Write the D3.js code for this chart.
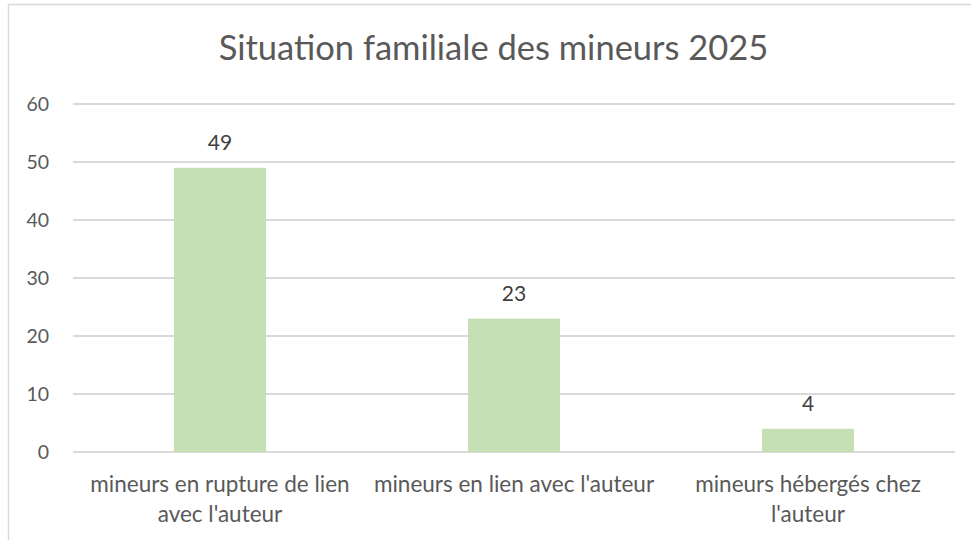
<!DOCTYPE html>
<html><head><meta charset="utf-8">
<script src="https://cdn.jsdelivr.net/npm/d3@7"></script>
<style>body{margin:0;background:#fff;} svg{display:block;}</style>
</head><body>
<svg id="c" width="971" height="540"></svg>
<script>
const categories = ["mineurs en rupture de lien avec l'auteur", "mineurs en lien avec l'auteur", "mineurs hébergés chez l'auteur"];
const values = [49, 23, 4];
const yTicks = [0, 10, 20, 30, 40, 50, 60];
const title = "Situation familiale des mineurs 2025";

const svg = d3.select("#c");
const font = "Lato, 'Open Sans', sans-serif";
const m = {left: 73, right: 16, top: 104, bottom: 88};
const W = 971, H = 540;

// chart frame
svg.append("path").attr("d", `M8.5,${H} V4.5 H${W}`).attr("fill","none").attr("stroke","#d9d9d9").attr("stroke-width",1.5);

const x = d3.scaleBand().domain(categories).range([m.left, W - m.right]).paddingInner(0.687).paddingOuter(0.3435);
const y = d3.scaleLinear().domain([0, 60]).range([H - m.bottom, m.top]);

// gridlines
svg.append("g").selectAll("line").data(yTicks).join("line")
  .attr("x1", m.left).attr("x2", W - m.right)
  .attr("y1", d => y(d)).attr("y2", d => y(d))
  .attr("stroke", "#d9d9d9").attr("stroke-width", 2);

// y axis labels
const yAxis = svg.append("g").attr("transform", `translate(${m.left - 24},0)`)
  .call(d3.axisLeft(y).tickValues(yTicks).tickSize(0).tickPadding(0));
yAxis.select(".domain").remove();
yAxis.selectAll("text").attr("fill", "#595959").style("font-family", font).style("font-size", "19.5px");

// bars
svg.append("g").selectAll("rect").data(values).join("rect")
  .attr("x", (d, i) => x(categories[i])).attr("width", x.bandwidth())
  .attr("y", d => y(d)).attr("height", d => y(0) - y(d))
  .attr("fill", "#c5e0b4");

// data labels
svg.append("g").selectAll("text").data(values).join("text")
  .attr("x", (d, i) => x(categories[i]) + x.bandwidth() / 2)
  .attr("y", d => y(d) - 18)
  .attr("text-anchor", "middle").attr("fill", "#404040")
  .style("font-family", font).style("font-size", "21px")
  .text(d => d);

// x axis labels with wrapping
const xAxis = svg.append("g").attr("transform", `translate(0,${y(0)})`)
  .call(d3.axisBottom(x).tickSize(0).tickPadding(0));
xAxis.select(".domain").remove();
xAxis.selectAll("text").remove();
const maxW = x.step() - 4;
xAxis.selectAll(".tick").each(function(d) {
  const g = d3.select(this);
  const t = g.append("text").attr("text-anchor", "middle").attr("fill", "#595959")
    .style("font-family", font).style("font-size", "22.5px").attr("y", 40);
  const words = d.split(" ");
  let line = [];
  let ts = t.append("tspan").attr("x", 0).attr("dy", 0);
  for (const w of words) {
    line.push(w);
    ts.text(line.join(" "));
    if (ts.node().getComputedTextLength() > maxW && line.length > 1) {
      line.pop(); ts.text(line.join(" "));
      line = [w];
      ts = t.append("tspan").attr("x", 0).attr("dy", 30).text(w);
    }
  }
});

// title
svg.append("text").attr("x", (W - 8) / 2 + 12).attr("y", 60).attr("text-anchor", "middle")
  .attr("fill", "#595959").style("font-family", font).style("font-size", "34.5px")
  .text(title);
</script>
</body></html>
